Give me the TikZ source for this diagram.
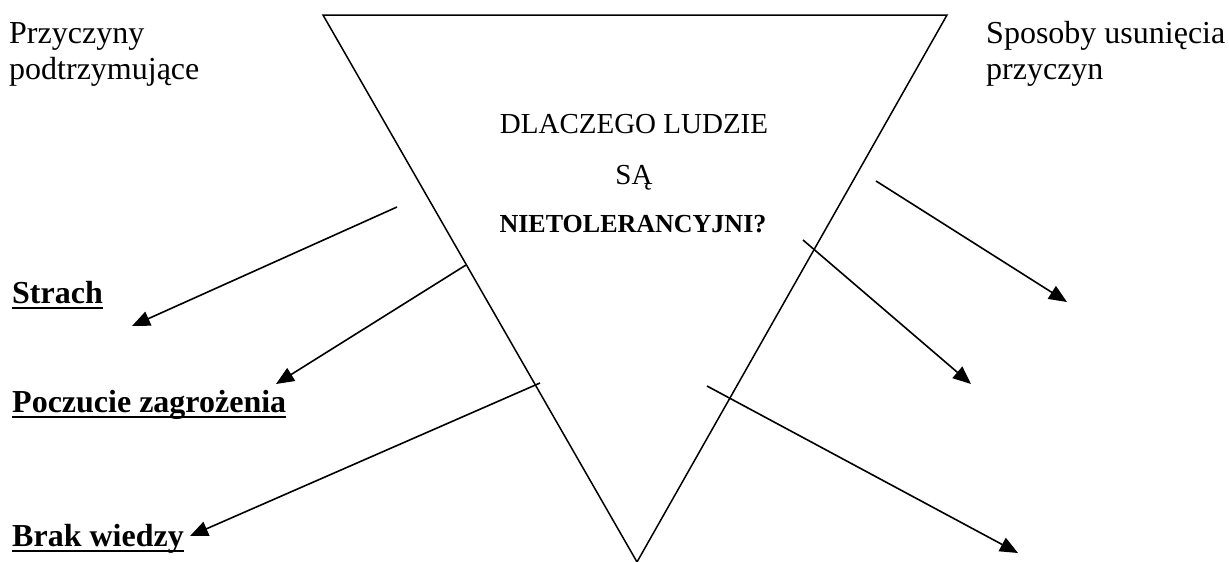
\documentclass[tikz,border=0pt]{standalone}
\usepackage{fontspec}
\setmainfont{Liberation Serif}
\usetikzlibrary{arrows.meta,positioning}
\tikzset{
  bok/.style={line width=1.5pt},
  strzalka/.style={line width=1.6pt,-{Triangle[length=18pt,width=15pt]}},
  etyk/.style={anchor=base west,inner sep=0pt,align=left,font=\fontsize{32}{36}\selectfont},
  srodek/.style={anchor=base,inner sep=0pt,font=\fontsize{29}{34}\selectfont},
  powod/.style={anchor=base west,inner sep=0pt,font=\fontsize{32}{36}\selectfont\bfseries},
  kreska/.style={line width=2.6pt},
}

\begin{document}
\begin{tikzpicture}[x=1pt,y=-1pt]
  \useasboundingbox (0,0) rectangle (1229,562);
  % trojkat
  \coordinate (lg) at (323,15);
  \coordinate (pg) at (947,15);
  \coordinate (dol) at (637,562);
  \draw[bok] (lg) -- (pg) -- (dol) -- cycle;
  % naglowki
  \node[etyk] (przyczyny) at (9,79) {Przyczyny\\podtrzymujące};
  \node[etyk] (sposoby) at (986,79) {Sposoby usunięcia\\przyczyn};
  % pytanie
  \node[srodek] (pyt1) at (634,133) {DLACZEGO LUDZIE};
  \node[srodek] (pyt2) at (634,184) {SĄ};
  \node[srodek,font=\fontsize{26}{30}\selectfont\bfseries] (pyt3) at (633,232) {NIETOLERANCYJNI?};
  % przyczyny
  \node[powod] (strach) at (12,303) {Strach};
  \node[powod] (zagr) at (12,412) {Poczucie zagrożenia};
  \node[powod] (wiedza) at (12,546) {Brak wiedzy};
  \foreach \n in {strach,zagr,wiedza}
    \draw[kreska] ([yshift=-5pt]\n.base west) -- ([yshift=-5pt]\n.base east);
  % strzalki w lewo
  \coordinate (a1) at (397,207); \coordinate (b1) at (132,326);
  \coordinate (a2) at (466,265); \coordinate (b2) at (276,384);
  \coordinate (a3) at (540,383); \coordinate (b3) at (190,536);
  \draw[strzalka] (a1) -- (b1);
  \draw[strzalka] (a2) -- (b2);
  \draw[strzalka] (a3) -- (b3);
  % strzalki w prawo
  \coordinate (c1) at (876,181); \coordinate (d1) at (1067,302);
  \coordinate (c2) at (803,240); \coordinate (d2) at (971,384);
  \coordinate (c3) at (707,386); \coordinate (d3) at (1018,553);
  \draw[strzalka] (c1) -- (d1);
  \draw[strzalka] (c2) -- (d2);
  \draw[strzalka] (c3) -- (d3);
\end{tikzpicture}
\end{document}
